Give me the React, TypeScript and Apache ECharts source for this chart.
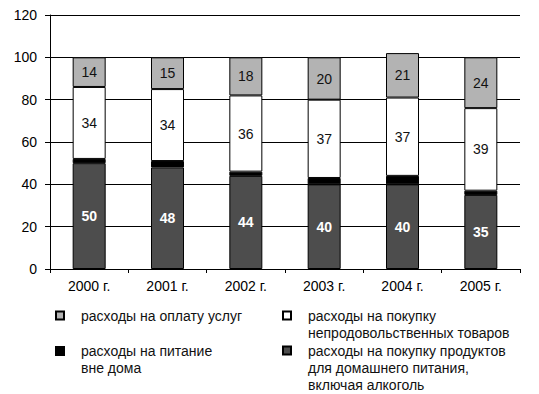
import React, { useEffect, useRef } from "react";
import * as echarts from "echarts";

const categories = ["2000 г.", "2001 г.", "2002 г.", "2003 г.", "2004 г.", "2005 г."];
const foodAtHome = [50, 48, 44, 40, 40, 35];
const eatingOut = [2, 3, 2, 3, 4, 2];
const nonFood = [34, 34, 36, 37, 37, 39];
const services = [14, 15, 18, 20, 21, 24];
const yTicks = [0, 20, 40, 60, 80, 100, 120];

const nameServices = "расходы на оплату услуг";
const nameNonFood = "расходы на покупку\nнепродовольственных товаров";
const nameEatingOut = "расходы на питание\nвне дома";
const nameFood = "расходы на покупку продуктов\nдля домашнего питания,\nвключая алкоголь";

const FONT = "'Liberation Sans', Arial, sans-serif";
const LH = 17;

function legendAt(name: string, left: number, iconCenterY: number) {
  const n = name.split("\n").length;
  const h = (2 * n - 1) * LH;
  const top = iconCenterY - h / 2;
  return {
    data: [name],
    left,
    top,
    orient: "vertical",
    padding: 0,
    icon: "rect",
    itemWidth: 8,
    itemHeight: 8,
    selectedMode: false,
    formatter: (nm: string) => "\n".repeat(n - 1) + nm,
    textStyle: {
      fontFamily: FONT,
      fontSize: 14,
      lineHeight: LH,
      color: "#111",
      padding: [0, 0, 0, 12],
    },
  };
}

export default function App() {
  const ref = useRef<HTMLDivElement>(null);
  useEffect(() => {
    if (!ref.current) return;
    const chart = echarts.init(ref.current, undefined, { renderer: "svg" });
    const border = { borderColor: "#000", borderWidth: 1 };
    const darkLabel = {
      show: true,
      position: "inside",
      color: "#fff",
      fontWeight: "bold",
      fontSize: 14,
      fontFamily: FONT,
    };
    const plainLabel = {
      show: true,
      position: "inside",
      color: "#111",
      fontSize: 14,
      fontFamily: FONT,
    };
    chart.setOption({
      animation: false,
      backgroundColor: "#fff",
      grid: { left: 50, right: 19, top: 15, bottom: 125, containLabel: false },
      xAxis: {
        type: "category",
        data: categories,
        axisLine: { show: true, lineStyle: { color: "#000", width: 1 } },
        axisTick: { show: true, length: 4, lineStyle: { color: "#000" } },
        axisLabel: { color: "#000", fontSize: 14, fontFamily: FONT, margin: 10 },
      },
      yAxis: {
        type: "value",
        min: yTicks[0],
        max: yTicks[yTicks.length - 1],
        interval: 20,
        axisLine: { show: true, lineStyle: { color: "#000", width: 1 } },
        axisTick: { show: true, length: 5, lineStyle: { color: "#000" } },
        axisLabel: { color: "#000", fontSize: 14, fontFamily: FONT, margin: 13 },
        splitLine: { show: true, lineStyle: { color: "#000", width: 1 } },
      },
      legend: [
        legendAt(nameServices, 55, 315.5),
        legendAt(nameNonFood, 282, 315.5),
        legendAt(nameEatingOut, 55, 351),
        legendAt(nameFood, 282, 350.5),
      ],
      series: [
        {
          name: nameFood,
          type: "bar",
          stack: "total",
          barWidth: 33,
          data: foodAtHome,
          itemStyle: { color: "#4d4d4d", ...border },
          label: darkLabel,
        },
        {
          name: nameEatingOut,
          type: "bar",
          stack: "total",
          barWidth: 33,
          data: eatingOut,
          itemStyle: { color: "#000", ...border },
          label: { show: false },
        },
        {
          name: nameNonFood,
          type: "bar",
          stack: "total",
          barWidth: 33,
          data: nonFood,
          itemStyle: { color: "#fff", ...border },
          label: plainLabel,
        },
        {
          name: nameServices,
          type: "bar",
          stack: "total",
          barWidth: 33,
          data: services,
          itemStyle: { color: "#b3b3b3", ...border },
          label: plainLabel,
        },
      ],
    });
    return () => chart.dispose();
  }, []);
  return (
    <div
      ref={ref}
      style={{ position: "fixed", left: 0, top: 0, width: 539, height: 394, background: "#fff" }}
    />
  );
}
